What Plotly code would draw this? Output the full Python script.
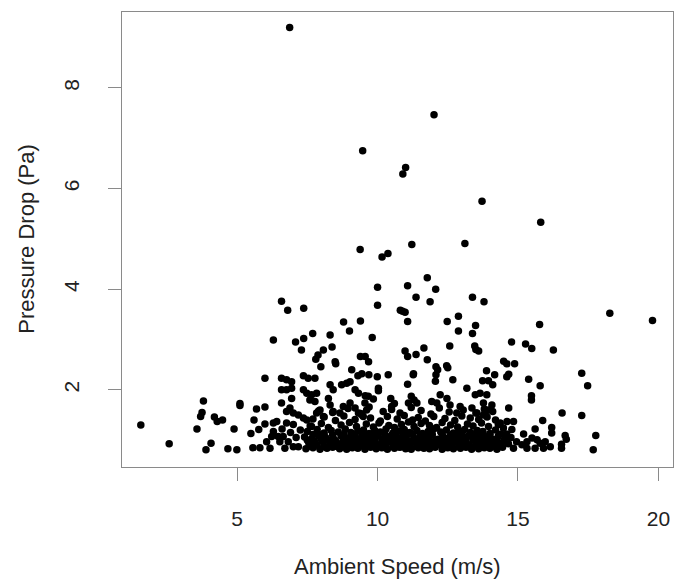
import plotly.graph_objects as go

# isolated high values and the upper scatter
speed_upper = [6.87, 12.01, 9.47, 11.00, 10.90, 13.72, 15.81, 9.38, 10.16, 10.37,
               11.22, 13.11, 11.77, 11.07, 12.07, 11.37, 11.87, 13.38, 13.79, 10.89,
               10.98, 11.07, 12.48, 12.88, 13.49, 12.88, 13.38, 15.77, 18.27, 19.79,
               10.00, 10.00, 10.81, 6.58, 6.80, 7.37, 6.29, 7.08, 7.37, 7.69,
               8.31, 8.79, 9.39, 9.00, 9.81]
drop_upper = [9.20, 7.47, 6.75, 6.42, 6.29, 5.75, 5.33, 4.79, 4.64, 4.71,
              4.89, 4.91, 4.23, 4.07, 4.00, 3.84, 3.75, 3.84, 3.75, 3.56,
              3.54, 3.36, 3.36, 3.46, 3.28, 3.17, 3.12, 3.30, 3.52, 3.38,
              4.04, 3.68, 3.58, 3.76, 3.58, 3.62, 2.99, 2.95, 3.02, 3.12,
              3.09, 3.35, 3.37, 3.17, 3.04]

# middle band, roughly 1.9 to 3 Pa
speed_mid = [12.57, 11.65, 10.98, 11.07, 11.37, 11.77, 13.46, 13.50, 13.60, 14.77,
             15.27, 15.49, 16.26, 14.49, 14.60, 14.88, 12.08, 12.14, 12.08, 12.06,
             12.46, 12.50, 12.68, 11.27, 11.07, 13.88, 14.17, 13.74, 13.95, 14.10,
             14.60, 14.67, 13.18, 15.38, 15.79, 17.27, 17.48, 15.48, 7.29, 8.38,
             8.07, 7.88, 7.80, 7.98, 8.49, 8.51, 9.39, 9.56, 9.68, 9.08,
             9.30, 9.69, 9.99, 10.38, 9.44, 11.28, 10.03, 10.03, 5.99, 6.58,
             6.76, 6.94, 7.36, 7.53, 7.77, 6.58, 6.76, 6.94, 7.36, 7.48,
             7.65, 7.83, 8.31, 8.42, 8.72, 8.90, 9.02, 9.20, 9.32, 12.23,
             13.48, 13.65, 13.89, 9.67]
drop_mid = [2.87, 2.83, 2.77, 2.66, 2.70, 2.60, 2.87, 2.80, 2.77, 2.95,
            2.91, 2.82, 2.79, 2.57, 2.52, 2.52, 2.46, 2.40, 2.30, 2.17,
            2.48, 2.44, 2.20, 2.30, 2.11, 2.38, 2.30, 2.18, 2.18, 2.10,
            2.26, 2.31, 2.03, 2.21, 2.08, 2.33, 2.08, 1.88, 2.79, 2.85,
            2.79, 2.69, 2.61, 2.46, 2.56, 2.52, 2.66, 2.66, 2.56, 2.40,
            2.28, 2.30, 2.26, 2.30, 2.32, 2.32, 2.03, 1.98, 2.23, 2.23,
            2.20, 2.16, 2.28, 2.23, 2.23, 2.00, 2.00, 2.03, 2.00, 1.93,
            1.90, 1.93, 2.10, 2.00, 2.10, 2.13, 2.16, 2.00, 1.93, 1.90,
            1.90, 1.93, 1.90, 1.87]

# low speeds, left of the main cloud
speed_left = [1.57, 2.58, 3.80, 3.75, 3.70, 3.57, 4.07, 3.89, 4.19, 4.29,
              4.48, 4.67, 4.99, 4.89, 5.10, 5.10, 5.49, 5.60, 5.69, 5.77,
              5.99, 5.99, 5.56, 5.81, 6.05, 6.17, 6.94, 6.58, 6.76, 6.88,
              7.00, 7.18, 7.36, 6.29, 6.41, 6.29, 6.46, 6.52, 6.23, 6.76,
              7.00, 6.64, 6.82, 7.00, 7.18, 6.70, 6.90, 7.10, 7.25, 6.60]
drop_left = [1.30, 0.93, 1.78, 1.55, 1.47, 1.22, 0.94, 0.81, 1.46, 1.37,
             1.40, 0.83, 0.81, 1.22, 1.73, 1.69, 1.13, 1.40, 1.62, 1.21,
             1.66, 1.32, 0.85, 0.85, 0.97, 0.84, 1.83, 1.74, 1.57, 1.64,
             1.54, 1.50, 1.44, 1.34, 1.37, 1.17, 1.07, 0.97, 1.07, 1.34,
             1.31, 1.07, 0.97, 0.87, 0.87, 0.84, 1.15, 1.05, 1.20, 1.22]

# loose points above the dense floor, 1.2 to 1.9 Pa
speed_loose = [7.59, 7.77, 8.25, 8.31, 7.48, 7.65, 7.83, 7.95, 8.07, 8.42,
               8.66, 8.78, 9.02, 9.20, 9.32, 9.49, 9.61, 9.55, 9.56, 9.85,
               10.47, 10.60, 10.50, 11.20, 11.30, 11.10, 11.40, 11.93, 12.11, 12.47,
               12.58, 12.94, 12.82, 13.36, 13.54, 13.77, 13.95, 13.77, 14.07, 13.83,
               14.67, 14.37, 14.61, 14.84, 14.48, 14.78]
drop_loose = [1.80, 1.77, 1.83, 1.70, 1.40, 1.27, 1.54, 1.60, 1.47, 1.57,
              1.54, 1.67, 1.74, 1.64, 1.54, 1.47, 1.60, 1.74, 1.88, 1.82,
              1.83, 1.73, 1.67, 1.87, 1.80, 1.74, 1.74, 1.77, 1.74, 1.83,
              1.70, 1.67, 1.54, 1.64, 1.54, 1.50, 1.60, 1.74, 1.70, 1.54,
              1.64, 1.34, 1.37, 1.37, 1.24, 1.21]

# dense floor of the cloud, 0.8 to 1.7 Pa
speed_floor = [7.45, 7.7, 7.95, 8.2, 8.4, 8.65, 8.9, 9.1, 9.3, 9.55,
               9.75, 9.95, 10.15, 10.35, 10.6, 10.8, 11.0, 11.2, 11.45, 11.65,
               11.85, 12.05, 12.3, 12.5, 12.7, 12.95, 13.15, 13.35, 13.6, 13.8,
               14.0, 14.25, 14.45,
               7.6, 7.85, 8.1, 8.3, 8.5, 8.8, 9.05, 9.25, 9.5, 9.7,
               9.9, 10.1, 10.3, 10.55, 10.75, 10.95, 11.15, 11.4, 11.6, 11.8,
               12.0, 12.25, 12.45, 12.65, 12.9, 13.1, 13.3, 13.55, 13.75, 13.95,
               14.2, 14.4,
               7.55, 7.8, 8.05, 8.3, 8.55, 8.75, 9.0, 9.2, 9.45, 9.65,
               9.85, 10.05, 10.25, 10.5, 10.7, 10.9, 11.1, 11.35, 11.55, 11.75,
               11.95, 12.2, 12.4, 12.6, 12.85, 13.05, 13.25, 13.5, 13.7, 13.9,
               14.15, 14.35,
               7.5, 7.75, 8.0, 8.25, 8.5, 8.8, 9.05, 9.25, 9.5, 9.7,
               9.9, 10.15, 10.35, 10.6, 10.8, 11.0, 11.2, 11.45, 11.65, 11.85,
               12.1, 12.3, 12.5, 12.75, 12.95, 13.15, 13.4, 13.6, 13.8, 14.05,
               14.25, 14.5,
               7.4, 7.65, 7.9, 8.15, 8.45, 8.7, 8.95, 9.15, 9.35, 9.6,
               9.8, 10.0, 10.2, 10.45, 10.65, 10.85, 11.05, 11.3, 11.5, 11.7,
               11.9, 12.15, 12.35, 12.55, 12.8, 13.0, 13.2, 13.45, 13.65, 13.85,
               14.1, 14.3, 14.55,
               7.7, 8.05, 8.4, 8.8, 9.2, 9.45, 9.9, 10.25, 10.5, 10.9,
               11.25, 11.55, 11.95, 12.3, 12.6, 13.0, 13.4, 13.7, 14.0, 14.4,
               7.5, 7.85, 8.1, 8.35, 8.6, 8.85, 9.05, 9.3, 9.5, 9.7,
               9.9, 10.1, 10.3, 10.55, 10.75, 10.95, 11.15, 11.4, 11.6, 11.8,
               12.0, 12.25, 12.45, 12.7, 12.9, 13.1, 13.3, 13.55, 13.75, 14.0,
               14.2,
               7.6, 8.0, 8.25, 8.7, 9.0, 9.25, 9.6, 9.85, 10.05, 10.4,
               10.6, 10.85, 11.1, 11.3, 11.55, 11.85, 12.1, 12.3, 12.6, 12.85,
               13.2, 13.4, 13.7, 13.95, 14.3,
               7.7, 8.1, 8.5, 8.8, 9.2, 9.45, 9.75, 10.1, 10.35, 10.7,
               10.95, 11.25, 11.45, 11.7, 12.0, 12.4, 12.75, 13.0, 13.3, 13.6,
               13.9, 14.2,
               7.9, 8.4, 8.95, 9.4, 9.7, 10.2, 10.5, 10.8, 11.2, 11.55,
               11.9, 12.2, 12.55, 13.05, 13.5, 13.8, 14.1]
drop_floor = [0.83, 0.85, 0.82, 0.84, 0.86, 0.83, 0.82, 0.85, 0.84, 0.82,
              0.86, 0.83, 0.85, 0.82, 0.84, 0.86, 0.83, 0.82, 0.85, 0.84,
              0.83, 0.86, 0.82, 0.85, 0.83, 0.84, 0.86, 0.82, 0.83, 0.85,
              0.84, 0.82, 0.86,
              0.88, 0.90, 0.87, 0.89, 0.88, 0.90, 0.87, 0.89, 0.88, 0.90,
              0.87, 0.89, 0.88, 0.90, 0.87, 0.89, 0.90, 0.88, 0.87, 0.89,
              0.88, 0.90, 0.87, 0.89, 0.88, 0.90, 0.87, 0.89, 0.88, 0.90,
              0.87, 0.89,
              0.95, 0.92, 0.97, 0.94, 0.91, 0.96, 0.93, 0.98, 0.92, 0.95,
              0.97, 0.91, 0.94, 0.96, 0.93, 0.98, 0.92, 0.95, 0.91, 0.97,
              0.94, 0.92, 0.96, 0.93, 0.95, 0.98, 0.91, 0.94, 0.97, 0.92,
              0.95, 0.93,
              1.00, 0.99, 1.01, 1.00, 0.99, 1.01, 1.00, 0.99, 1.01, 1.00,
              0.99, 1.01, 1.00, 0.99, 1.01, 1.00, 0.99, 1.01, 1.00, 0.99,
              1.01, 1.00, 0.99, 1.01, 1.00, 0.99, 1.01, 1.00, 0.99, 1.01,
              1.00, 0.99,
              1.06, 1.03, 1.09, 1.05, 1.02, 1.08, 1.04, 1.10, 1.03, 1.07,
              1.05, 1.09, 1.02, 1.06, 1.08, 1.04, 1.10, 1.03, 1.07, 1.05,
              1.09, 1.02, 1.06, 1.04, 1.08, 1.03, 1.07, 1.10, 1.04, 1.06,
              1.02, 1.08, 1.05,
              1.11, 1.12, 1.10, 1.11, 1.12, 1.10, 1.11, 1.12, 1.10, 1.11,
              1.12, 1.10, 1.11, 1.12, 1.10, 1.11, 1.12, 1.10, 1.11, 1.12,
              1.17, 1.21, 1.14, 1.19, 1.16, 1.22, 1.15, 1.18, 1.20, 1.13,
              1.19, 1.16, 1.22, 1.14, 1.18, 1.21, 1.15, 1.19, 1.13, 1.17,
              1.22, 1.16, 1.20, 1.14, 1.18, 1.21, 1.15, 1.19, 1.17, 1.13,
              1.20,
              1.28, 1.33, 1.25, 1.30, 1.35, 1.27, 1.32, 1.26, 1.34, 1.29,
              1.25, 1.31, 1.36, 1.27, 1.33, 1.29, 1.25, 1.35, 1.30, 1.26,
              1.32, 1.28, 1.34, 1.27, 1.31,
              1.42, 1.46, 1.39, 1.48, 1.41, 1.50, 1.44, 1.38, 1.47, 1.42,
              1.49, 1.40, 1.45, 1.38, 1.47, 1.43, 1.39, 1.48, 1.44, 1.41,
              1.46, 1.40,
              1.58, 1.55, 1.63, 1.53, 1.66, 1.57, 1.61, 1.54, 1.65, 1.59,
              1.52, 1.64, 1.56, 1.60, 1.54, 1.62, 1.57]

# right tail, above about 14.5 m/s
speed_right = [14.66, 14.37, 14.84, 15.61, 15.50, 15.68, 15.79, 15.97, 16.15, 15.91,
               15.61, 15.32, 15.14, 15.32, 15.20, 16.20, 16.20, 16.68, 16.72, 17.77,
               17.68, 16.55, 16.55, 16.57, 17.27, 15.88, 15.48, 14.75, 14.95, 14.60]
drop_right = [0.93, 0.94, 0.84, 1.22, 1.04, 1.01, 0.94, 0.97, 0.87, 0.84,
              0.84, 0.84, 0.91, 0.97, 1.12, 1.25, 1.14, 1.09, 1.02, 1.09,
              0.81, 0.84, 0.92, 1.54, 1.49, 1.39, 1.80, 1.05, 0.97, 1.12]

speed = speed_upper + speed_mid + speed_left + speed_loose + speed_floor + speed_right
drop = drop_upper + drop_mid + drop_left + drop_loose + drop_floor + drop_right

box_col = '#8a8a8a'
text_col = '#222222'

fig = go.Figure()
fig.add_trace(go.Scatter(
    x=speed, y=drop, mode='markers',
    marker=dict(color='black', size=7.5, line=dict(width=0)),
    hoverinfo='x+y'
))

axis_common = dict(
    showgrid=False, zeroline=False,
    showline=True, mirror=True, linecolor=box_col, linewidth=1.3,
    ticks='outside', ticklen=13, tickwidth=1.3, tickcolor=box_col,
    tickfont=dict(size=21, color=text_col),
)

# the page body keeps its default 8px margin, so the figure is 8px smaller
fig.update_layout(
    width=678, height=573,
    margin=dict(l=114, r=13, t=4, b=114),
    plot_bgcolor='white', paper_bgcolor='white',
    font=dict(family='Liberation Sans, Arial, sans-serif', size=21, color=text_col),
    showlegend=False,
    xaxis=dict(range=[0.90, 20.52], tickvals=[5, 10, 15, 20], ticklabelstandoff=20, **axis_common),
    yaxis=dict(range=[0.466, 9.51], tickvals=[2, 4, 6, 8], tickangle=-90, ticklabelstandoff=20, **axis_common),
    annotations=[
        dict(text='Ambient Speed (m/s)', xref='paper', yref='paper', x=0.5, y=-0.219,
             xanchor='center', yanchor='middle', showarrow=False, font=dict(size=22)),
        dict(text='Pressure Drop (Pa)', xref='paper', yref='paper', x=-0.174, y=0.502,
             xanchor='center', yanchor='middle', textangle=-90, showarrow=False, font=dict(size=22)),
    ],
)

fig.write_html("out.html")
